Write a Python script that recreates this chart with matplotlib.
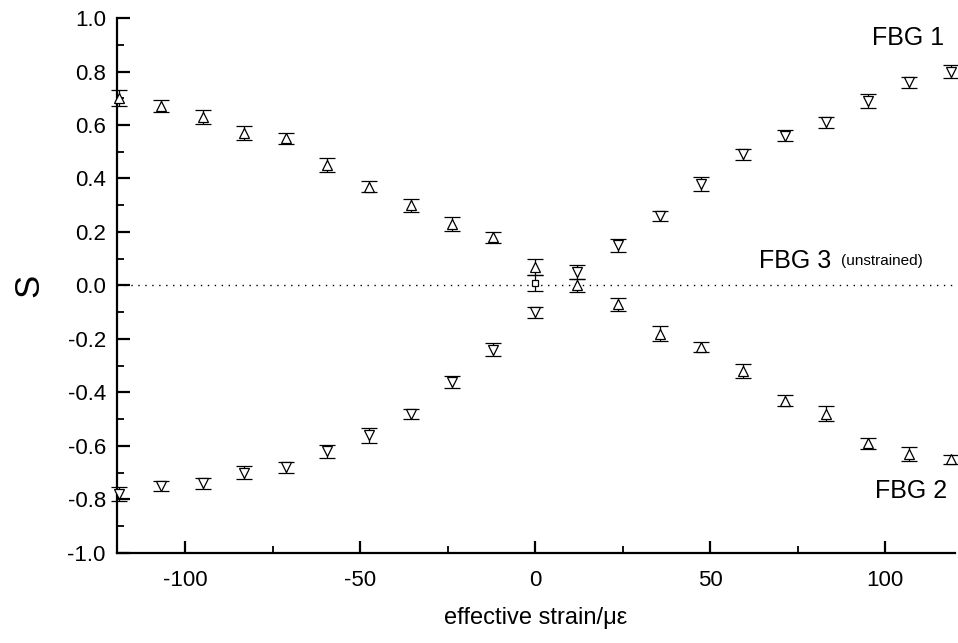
import matplotlib
matplotlib.use("Agg")
import matplotlib.pyplot as plt
from matplotlib.ticker import MultipleLocator, FormatStrFormatter

plt.rcParams['font.family'] = ['Liberation Sans', 'DejaVu Sans']
plt.rcParams['axes.unicode_minus'] = False

# effective strain (micro-strain)
strain = [-118.8, -106.9, -95.0, -83.2, -71.3, -59.4, -47.5, -35.6, -23.8, -11.9, 0.0,
          11.9, 23.8, 35.6, 47.5, 59.4, 71.3, 83.2, 95.0, 106.9, 118.8]

# FBG 1 (down triangles), rising
fbg1 = [-0.78, -0.75, -0.74, -0.70, -0.68, -0.62, -0.56, -0.48, -0.36, -0.24, -0.10,
        0.05, 0.15, 0.26, 0.38, 0.49, 0.56, 0.61, 0.69, 0.76, 0.80]
fbg1_err = [0.025, 0.02, 0.022, 0.025, 0.02, 0.025, 0.028, 0.02, 0.022, 0.025, 0.02,
            0.025, 0.025, 0.02, 0.025, 0.02, 0.02, 0.02, 0.025, 0.02, 0.025]

# FBG 2 (up triangles), falling
fbg2 = [0.70, 0.67, 0.63, 0.57, 0.55, 0.45, 0.37, 0.30, 0.23, 0.18, 0.07,
        0.00, -0.07, -0.18, -0.23, -0.32, -0.43, -0.48, -0.59, -0.63, -0.65]
fbg2_err = [0.03, 0.022, 0.025, 0.025, 0.02, 0.025, 0.02, 0.025, 0.025, 0.02, 0.03,
            0.025, 0.025, 0.028, 0.02, 0.025, 0.02, 0.028, 0.02, 0.025, 0.018]

# FBG 3 (unstrained reference)
fbg3_x = [0.0]
fbg3 = [0.01]
fbg3_err = [0.03]

fig = plt.figure(figsize=(9.58, 6.43), dpi=100)
ax = fig.add_axes([0.122, 0.14, 0.875, 0.832])

ax.axhline(0, color='black', linestyle=(0, (1, 4)), linewidth=1.0, zorder=1)

common = dict(linestyle='none', color='black', ecolor='black', elinewidth=0.9,
              capsize=6, capthick=0.9, markerfacecolor='white',
              markeredgecolor='black', markeredgewidth=0.9, zorder=3, clip_on=False)
ax.errorbar(strain, fbg1, yerr=fbg1_err, marker='v', markersize=6.5, **common)
ax.errorbar(strain, fbg2, yerr=fbg2_err, marker='^', markersize=6.5, **common)
ax.errorbar(fbg3_x, fbg3, yerr=fbg3_err, marker='s', markersize=4, **common)

ax.set_xlim(-119.5, 120)
ax.set_ylim(-1.0, 1.0)

ax.spines['top'].set_visible(False)
ax.spines['right'].set_visible(False)
ax.spines['left'].set_linewidth(1.6)
ax.spines['bottom'].set_linewidth(1.6)

ax.xaxis.set_major_locator(MultipleLocator(50))
ax.xaxis.set_minor_locator(MultipleLocator(25))
ax.yaxis.set_major_locator(MultipleLocator(0.2))
ax.yaxis.set_minor_locator(MultipleLocator(0.1))
ax.yaxis.set_major_formatter(FormatStrFormatter('%.1f'))

ax.tick_params(which='major', direction='in', length=9, width=1.6, labelsize=16, pad=8)
ax.tick_params(which='minor', direction='in', length=5, width=1.3)
ax.tick_params(axis='x', which='major', pad=12)

ax.set_xlabel('effective strain/\u03bc\u03b5', fontsize=17, labelpad=12)
ax.set_ylabel('S', fontsize=25, labelpad=16)

ax.text(0.987, 0.963, 'FBG 1', transform=ax.transAxes, ha='right', va='center', fontsize=18)
ax.text(0.852, 0.545, 'FBG 3', transform=ax.transAxes, ha='right', va='center', fontsize=18)
ax.text(0.864, 0.545, '(unstrained)', transform=ax.transAxes, ha='left', va='center', fontsize=11)
ax.text(0.99, 0.115, 'FBG 2', transform=ax.transAxes, ha='right', va='center', fontsize=18)

fig.savefig('out.png', dpi=100)
